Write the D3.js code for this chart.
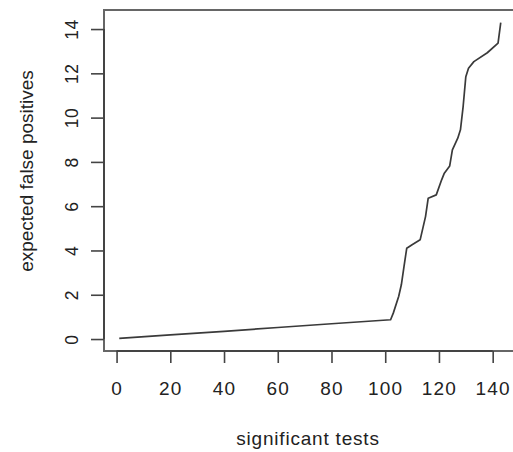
<!DOCTYPE html>
<html>
<head>
<meta charset="utf-8">
<script src="https://cdn.jsdelivr.net/npm/d3@7"></script>
<style>
  html, body { margin: 0; padding: 0; background: #fff; }
  svg { display: block; }
  text { font-family: "Liberation Sans", Arial, Helvetica, sans-serif; fill: #222; }
</style>
</head>
<body>
<svg id="chart" width="513" height="452"></svg>
<script>
// ---- data ----
const tests = [1, 20, 40, 60, 80, 102, 103, 105, 106, 107, 108, 110, 113, 115, 116, 119, 121, 122, 124, 125, 127, 128, 129, 130, 131, 133, 138, 142, 143];
const expectedFP = [0.03, 0.19, 0.35, 0.52, 0.69, 0.87, 1.17, 1.92, 2.45, 3.28, 4.10, 4.26, 4.48, 5.53, 6.36, 6.51, 7.19, 7.49, 7.82, 8.54, 9.07, 9.45, 10.5, 11.85, 12.23, 12.53, 12.93, 13.36, 14.29];
const xTicks = [0, 20, 40, 60, 80, 100, 120, 140];
const yTicks = [0, 2, 4, 6, 8, 10, 12, 14];
const xTitle = "significant tests";
const yTitle = "expected false positives";

(function () {
const svg = d3.select("#chart");
const pl = 104, pr = 516, pt = 10, pb = 351;

// R style 4% padding around the data range
const xMin = d3.min(tests), xMax = d3.max(tests);
const yMin = d3.min(expectedFP), yMax = d3.max(expectedFP);
const xPad = (xMax - xMin) * 0.04, yPad = (yMax - yMin) * 0.04;

const x = d3.scaleLinear().domain([xMin - xPad, xMax + xPad]).range([pl, pr]);
const y = d3.scaleLinear().domain([yMin - yPad, yMax + yPad]).range([pb, pt]);

// box
svg.append("rect")
  .attr("x", pl).attr("y", pt)
  .attr("width", pr - pl).attr("height", pb - pt)
  .attr("fill", "none").attr("stroke", "#666").attr("stroke-width", 2);

// x axis
const gx = svg.append("g").attr("transform", `translate(0,${pb})`)
  .call(d3.axisBottom(x).tickValues(xTicks).tickSize(12).tickSizeOuter(0).tickPadding(19));
gx.select(".domain").remove();
gx.append("line")
  .attr("x1", x(xTicks[0])).attr("x2", x(xTicks[xTicks.length - 1]))
  .attr("stroke", "#444").attr("stroke-width", 2);
gx.selectAll(".tick line").attr("stroke", "#444").attr("stroke-width", 1.6);
gx.selectAll(".tick text")
  .attr("fill", "#222").attr("font-size", 19).attr("letter-spacing", 1.2)
  .attr("font-family", "Liberation Sans, Arial, sans-serif");

// y axis
const gy = svg.append("g").attr("transform", `translate(${pl},0)`)
  .call(d3.axisLeft(y).tickValues(yTicks).tickSize(13).tickSizeOuter(0));
gy.select(".domain").remove();
gy.append("line")
  .attr("y1", y(yTicks[0])).attr("y2", y(yTicks[yTicks.length - 1]))
  .attr("stroke", "#444").attr("stroke-width", 2);
gy.selectAll(".tick line").attr("stroke", "#444").attr("stroke-width", 1.6);
gy.selectAll(".tick text")
  .attr("fill", "#222").attr("font-size", 17.5).attr("letter-spacing", 0.5)
  .attr("font-family", "Liberation Sans, Arial, sans-serif")
  .attr("x", null).attr("dy", null)
  .attr("text-anchor", "middle")
  .attr("transform", "translate(-26,0) rotate(-90)");

// line
const line = d3.line().x((d, i) => x(tests[i])).y(d => y(d));
svg.append("path")
  .datum(expectedFP)
  .attr("d", line)
  .attr("fill", "none")
  .attr("stroke", "#3a3a3a")
  .attr("stroke-width", 1.7)
  .attr("stroke-linejoin", "round");

// titles
svg.append("text")
  .attr("x", 308).attr("y", 445)
  .attr("text-anchor", "middle")
  .attr("font-size", 19).attr("letter-spacing", 0.8)
  .text(xTitle);

svg.append("text")
  .attr("transform", "translate(33,171) rotate(-90)")
  .attr("text-anchor", "middle")
  .attr("font-size", 19)
  .text(yTitle);
})();
</script>
</body>
</html>
